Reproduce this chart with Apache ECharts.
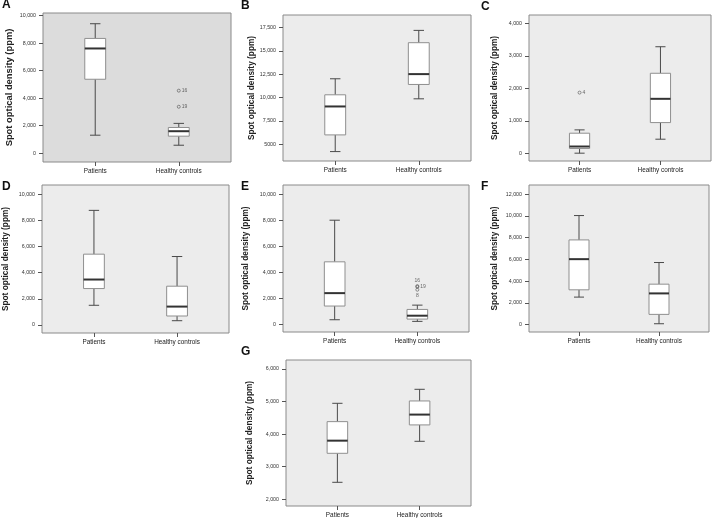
<!DOCTYPE html>
<html>
<head>
<meta charset="utf-8">
<script src="https://cdn.jsdelivr.net/npm/echarts@6/dist/echarts.min.js"></script>
<style>
  html, body { margin: 0; padding: 0; background: #fff; }
  #chart { width: 719px; height: 518px; }
</style>
</head>
<body>
<div id="chart"></div>
<script>
var categories = ["Patients", "Healthy controls"];

// five-number summaries [min, Q1, median, Q3, max]; patients first, controls second
var boxA = [[1310, 5380, 7620, 8350, 9420], [580, 1240, 1600, 1870, 2170]];
var boxB = [[4210, 6000, 9050, 10300, 12020], [9870, 11410, 12520, 15890, 17210]];
var boxC = [[10, 155, 215, 624, 726], [440, 950, 1680, 2465, 3280]];
var boxD = [[1510, 2790, 3480, 5420, 8770], [330, 690, 1410, 2970, 5240]];
var boxE = [[380, 1430, 2420, 4820, 8010], [255, 430, 690, 1170, 1500]];
var boxF = [[2540, 3210, 6030, 7800, 10040], [90, 950, 2880, 3730, 5720]];
var boxG = [[2522, 3412, 3800, 4384, 4946], [3780, 4283, 4600, 5018, 5376]];

// outliers [group index, value, case label]
var outA = [[1, 4550, "16"], [1, 3380, "19"]];
var outC = [[0, 1870, "4"]];
var outE = [[1, 2960, "16"], [1, 2900, "19"], [1, 2680, "8"]];

// y tick values and their labels
var ticksA = [0, 2000, 4000, 6000, 8000, 10000];
var labelsA = ["0", "2,000", "4,000", "6,000", "8,000", "10,000"];
var ticksB = [5000, 7500, 10000, 12500, 15000, 17500];
var labelsB = ["5000", "7,500", "10,000", "12,500", "15,000", "17,500"];
var ticksC = [0, 1000, 2000, 3000, 4000];
var labelsC = ["0", "1,000", "2,000", "3,000", "4,000"];
var ticksF = [0, 2000, 4000, 6000, 8000, 10000, 12000];
var labelsF = ["0", "2,000", "4,000", "6,000", "8,000", "10,000", "12,000"];
var ticksG = [2000, 3000, 4000, 5000, 6000];
var labelsG = ["2,000", "3,000", "4,000", "5,000", "6,000"];

var yName = "Spot optical density (ppm)";

// layout of each panel: grid rect [left, top, width, height], axis extent, letter spot
var panels = [
  { letter: "A", box: boxA, out: outA, ticks: ticksA, labels: labelsA, min: -640, max: 10200,
    rect: [43, 13, 188, 149], bg: "#dcdcdc", nameGap: 29, nameSize: 9.4, lx: 2, ly: -1 },
  { letter: "B", box: boxB, out: [], ticks: ticksB, labels: labelsB, min: 3200, max: 18860,
    rect: [283, 15, 188, 146], bg: "#ececec", nameGap: 27, nameSize: 8.3, lx: 241, ly: 0 },
  { letter: "C", box: boxC, out: outC, ticks: ticksC, labels: labelsC, min: -230, max: 4255,
    rect: [529, 15, 182, 146], bg: "#ececec", nameGap: 30, nameSize: 8.3, lx: 481, ly: 1 },
  { letter: "D", box: boxD, out: [], ticks: ticksA, labels: labelsA, min: -610, max: 10710,
    rect: [42, 185, 187, 148], bg: "#ececec", nameGap: 32, nameSize: 8.3, lx: 2, ly: 181 },
  { letter: "E", box: boxE, out: outE, ticks: ticksA, labels: labelsA, min: -560, max: 10710,
    rect: [283, 185, 186, 147], bg: "#ececec", nameGap: 33, nameSize: 8.3, lx: 241, ly: 181 },
  { letter: "F", box: boxF, out: [], ticks: ticksF, labels: labelsF, min: -670, max: 12850,
    rect: [529, 185, 180, 147], bg: "#ececec", nameGap: 30, nameSize: 8.3, lx: 481, ly: 181 },
  { letter: "G", box: boxG, out: [], ticks: ticksG, labels: labelsG, min: 1795, max: 6275,
    rect: [286, 360, 185, 146], bg: "#ececec", nameGap: 32, nameSize: 8.3, lx: 241, ly: 346 }
];

var outlierLabelPos = { "16": "top", "19": "right", "8": "bottom" };

function renderBox(params, api) {
  var x = api.value(0);
  var p = [1, 2, 3, 4, 5].map(function (i) { return api.coord([x, api.value(i)]); });
  var cx = p[0][0];
  var bw = api.size([0.25, 0])[0] / 2;
  var cw = bw / 2;
  var whisker = { stroke: "#4a4a4a", lineWidth: 1 };
  return {
    type: "group",
    children: [
      { type: "line", shape: { x1: cx, y1: p[0][1], x2: cx, y2: p[1][1] }, style: whisker },
      { type: "line", shape: { x1: cx, y1: p[3][1], x2: cx, y2: p[4][1] }, style: whisker },
      { type: "line", shape: { x1: cx - cw, y1: p[0][1], x2: cx + cw, y2: p[0][1] }, style: whisker },
      { type: "line", shape: { x1: cx - cw, y1: p[4][1], x2: cx + cw, y2: p[4][1] }, style: whisker },
      { type: "rect", shape: { x: cx - bw, y: p[3][1], width: 2 * bw, height: p[1][1] - p[3][1] },
        style: { fill: "#fff", stroke: "#8f8f8f", lineWidth: 1 } },
      { type: "line", shape: { x1: cx - bw, y1: p[2][1], x2: cx + bw, y2: p[2][1] },
        style: { stroke: "#333", lineWidth: 2 } }
    ]
  };
}

var option = {
  animation: false,
  backgroundColor: "#fff",
  title: [],
  grid: [],
  xAxis: [],
  yAxis: [],
  series: []
};

panels.forEach(function (pn, i) {
  option.title.push({
    text: pn.letter, left: pn.lx, top: pn.ly, padding: 0,
    textStyle: { fontFamily: "Liberation Sans", fontWeight: "bold", fontSize: 12, color: "#111" }
  });
  option.grid.push({
    left: pn.rect[0], top: pn.rect[1], width: pn.rect[2], height: pn.rect[3],
    show: true, backgroundColor: pn.bg, borderColor: "#8a8a8a", borderWidth: 1
  });
  option.xAxis.push({
    type: "value", gridIndex: i, min: -0.625, max: 1.625, position: "bottom",
    splitLine: { show: false },
    axisLine: { show: false, onZero: false },
    axisTick: { show: true, customValues: [0, 1], length: 4, lineStyle: { color: "#555" } },
    axisLabel: {
      customValues: [0, 1], margin: 6, fontSize: 6.4, color: "#222", fontFamily: "Liberation Sans",
      formatter: function (v) { return categories[Math.round(v)]; }
    }
  });
  option.yAxis.push({
    type: "value", gridIndex: i, min: pn.min, max: pn.max, position: "left",
    name: yName, nameLocation: "middle", nameRotate: 90, nameGap: pn.nameGap,
    nameTextStyle: { fontFamily: "Liberation Sans", fontWeight: "bold", fontSize: pn.nameSize, color: "#222" },
    splitLine: { show: false },
    axisLine: { show: false, onZero: false },
    axisTick: { show: true, customValues: pn.ticks, length: 4, lineStyle: { color: "#555" } },
    axisLabel: {
      customValues: pn.ticks, margin: 7, fontSize: 5.3, color: "#333", fontFamily: "Liberation Sans",
      formatter: function (v) {
        var k = pn.ticks.indexOf(v);
        return k >= 0 ? pn.labels[k] : "";
      }
    }
  });
  option.series.push({
    type: "custom", xAxisIndex: i, yAxisIndex: i,
    renderItem: renderBox,
    encode: { x: 0, y: [1, 2, 3, 4, 5] },
    data: pn.box.map(function (b, g) { return [g].concat(b); })
  });
  if (pn.out.length) {
    option.series.push({
      type: "scatter", xAxisIndex: i, yAxisIndex: i,
      symbol: "circle", symbolSize: 3,
      itemStyle: { color: "rgba(0,0,0,0)", borderColor: "#555", borderWidth: 0.8 },
      data: pn.out.map(function (o) {
        return {
          value: [o[0], o[1]],
          label: {
            show: true, formatter: o[2],
            position: pn.letter === "E" ? outlierLabelPos[o[2]] : "right",
            distance: 1, fontSize: 5, color: "#444", fontFamily: "Liberation Sans"
          }
        };
      })
    });
  }
});

var myChart = echarts.init(document.getElementById("chart"));
myChart.setOption(option);
</script>
</body>
</html>
